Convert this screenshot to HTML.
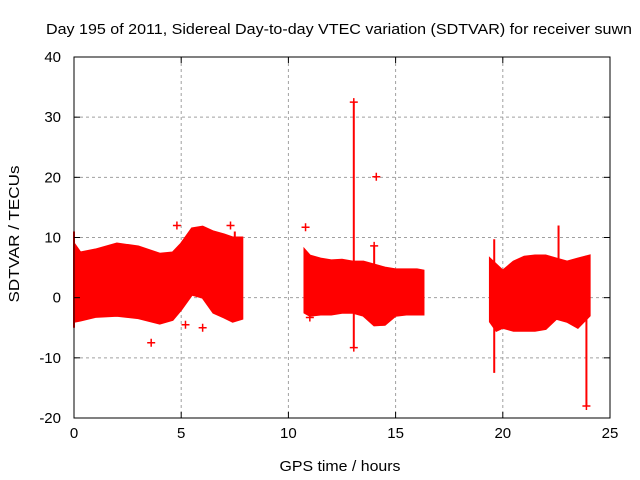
<!DOCTYPE html>
<html><head><meta charset="utf-8"><style>
body{margin:0;background:#fff}
svg{display:block}
text{font-family:"Liberation Sans",sans-serif;font-size:15px;fill:#000}
</style></head><body>
<svg id="chart" width="640" height="480">
<text x="339" y="34" text-anchor="middle" textLength="586" lengthAdjust="spacingAndGlyphs">Day 195 of 2011, Sidereal Day-to-day VTEC variation (SDTVAR) for receiver suwn</text>
<text x="340" y="471" text-anchor="middle" textLength="121" lengthAdjust="spacingAndGlyphs">GPS time / hours</text>
<text transform="translate(19,234) rotate(-90)" text-anchor="middle" textLength="137" lengthAdjust="spacingAndGlyphs">SDTVAR / TECUs</text>
<g id="grid"></g><g id="data"></g><g id="axes"></g>
</svg>
<script>
const xTicks=[0,5,10,15,20,25];
const yTicks=[-20,-10,0,10,20,30,40];
// band segments: times, upper and lower envelopes
const seg1T=[0,0.3,1,2,3,4,4.6,5,5.5,6,6.5,7,7.4,7.85];
const seg1Up=[9,7.5,8,9,8.5,7.3,7.5,9,11.5,11.8,11,10.5,10,10];
const seg1Lo=[-4,-3.8,-3.2,-3,-3.4,-4.3,-3.7,-2,0.5,0,-2.5,-3.3,-4,-3.5];
const seg2T=[10.75,11,11.5,12,12.5,13,13.5,14,14.5,15,15.5,16,16.3];
const seg2Lo=[-2.5,-3,-2.8,-2.8,-2.5,-2.5,-3,-4.6,-4.5,-3,-2.8,-2.8,-2.8];
const seg2Up=[8,7,6.5,6.2,6.3,6,6,5.5,5,4.7,4.7,4.7,4.5];
const seg3T=[19.4,19.7,20,20.5,21,21.5,22,22.5,23,23.5,24.05];
const seg3Up=[6.5,5.5,4.5,6,6.8,7,7,6.5,6,6.5,7];
const seg3Lo=[-4,-5.5,-5,-5.5,-5.5,-5.5,-5.2,-3.5,-4,-5,-3];
// spikes: time, min, max
const spikeT=[13.05,19.6,23.9,22.6,0,7.5,14.0];
const spikeMin=[-8.3,-12.5,-18,0,-5,-3,0];
const spikeMax=[32.5,9.7,7,12,11,11,8.6];
// isolated points
const ptT=[4.8,5.2,6,7.3,11,10.8,14.1,14.0,13.05,13.05,3.6,23.9];
const ptV=[12,-4.5,-5,12,-3.3,11.7,20.1,8.6,32.5,-8.3,-7.5,-18];

const X0=74,X1=610,Y0=418,Y1=57;
const xs=v=>X0+(v-0)/25*(X1-X0);
const ys=v=>Y0-(v+20)/60*(Y0-Y1);
const NS="http://www.w3.org/2000/svg";
function mk(tag,parent,attrs){const e=document.createElementNS(NS,tag);for(const k in attrs)e.setAttribute(k,attrs[k]);parent.appendChild(e);return e;}
const grid=document.getElementById('grid'),data=document.getElementById('data'),axes=document.getElementById('axes');
xTicks.forEach(t=>{
  if(t>0&&t<25){const l=mk('line',grid,{x1:xs(t),x2:xs(t),y1:Y1,y2:Y0,stroke:'#a0a0a0','stroke-dasharray':'3,3'});
  }
  const tk=mk('line',axes,{x1:xs(t),x2:xs(t),y1:Y0,y2:Y0-6,stroke:'#000'});
  
  const tk2=mk('line',axes,{x1:xs(t),x2:xs(t),y1:Y1,y2:Y1+6,stroke:'#000'});
  
  const tx=mk('text',axes,{x:xs(t),y:Y0+20,'text-anchor':'middle'});tx.textContent=t;
  
});
yTicks.forEach(t=>{
  if(t>-20&&t<40){const l=mk('line',grid,{x1:X0,x2:X1,y1:ys(t),y2:ys(t),stroke:'#a0a0a0','stroke-dasharray':'3,3'});
  }
  const tk=mk('line',axes,{x1:X0,x2:X0+6,y1:ys(t),y2:ys(t),stroke:'#000'});
  
  const tk2=mk('line',axes,{x1:X1,x2:X1-6,y1:ys(t),y2:ys(t),stroke:'#000'});
  
  const tx=mk('text',axes,{x:X0-13,y:ys(t)+5,'text-anchor':'end'});tx.textContent=t;
  
});
const fr=mk('rect',axes,{x:X0,y:Y1,width:X1-X0,height:Y0-Y1,fill:'none',stroke:'#000'});

function band(T,U,L,name){
  let pts=T.map((t,i)=>xs(t)+','+ys(U[i]));
  for(let i=T.length-1;i>=0;i--)pts.push(xs(T[i])+','+ys(L[i]));
  const p=mk('polygon',data,{points:pts.join(' '),fill:'#ff0000',stroke:'#ff0000','stroke-width':2});
  
}
band(seg1T,seg1Up,seg1Lo,'data-band-1');
band(seg2T,seg2Up,seg2Lo,'data-band-2');
band(seg3T,seg3Up,seg3Lo,'data-band-3');
spikeT.forEach((t,i)=>{
  const l=mk('line',data,{x1:xs(t),x2:xs(t),y1:ys(spikeMin[i]),y2:ys(spikeMax[i]),stroke:'#ff0000','stroke-width':2});
  
});
ptT.forEach((t,i)=>{
  const x=xs(t),y=ys(ptV[i]);
  const p=mk('path',data,{d:`M${x-4},${y}H${x+4}M${x},${y-4}V${y+4}`,stroke:'#ff0000','stroke-width':1.5});
  
});
</script>
</body></html>
